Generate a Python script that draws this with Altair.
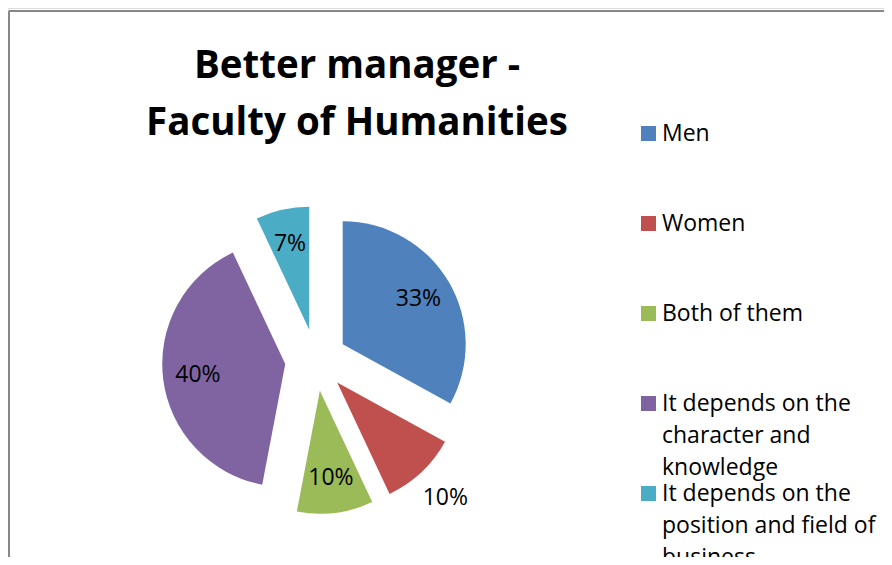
import altair as alt
import pandas as pd

categories = ["Men", "Women", "Both of them",
              "It depends on the character and knowledge",
              "It depends on the position and field of business"]
legend_labels = ["Men", "Women", "Both of them",
                 "It depends on the\ncharacter and\nknowledge",
                 "It depends on the\nposition and field of\nbusiness"]
values = [33, 10, 10, 40, 7]
colors = ["#4F81BD", "#C0504D", "#9BBB59", "#8064A2", "#4BACC6"]
title_text = "Better manager -\nFaculty of Humanities"

FONT = "Open Sans"
CX, CY, R, OFF = 308, 352, 123, 31

df = pd.DataFrame({
    "cat": categories,
    "legend": legend_labels,
    "value": values,
    "order": list(range(len(categories))),
})

base = (
    alt.Chart(df)
    .transform_window(cum="sum(value)", idx="row_number()",
                      sort=[alt.SortField("order")], frame=[None, 0])
    .transform_joinaggregate(total="sum(value)")
    .transform_calculate(
        a1="datum.cum / datum.total * 2 * PI",
        a0="(datum.cum - datum.value) / datum.total * 2 * PI",
    )
    .transform_calculate(mid="(datum.a0 + datum.a1) / 2")
    .transform_calculate(
        cx=f"{CX} + {OFF} * sin(datum.mid)",
        cy=f"{CY} - {OFF} * cos(datum.mid)",
        lr="datum.cat === 'Women' ? 158 : 88",
        lbl="datum.value + '%'",
        ly0="125.5 + 90 * (datum.idx - 1)",
        ty0="133 + 90 * (datum.idx - 1)",
    )
    .transform_calculate(
        lx="datum.cx + datum.lr * sin(datum.mid)",
        ly="datum.cy - datum.lr * cos(datum.mid)",
    )
)

color = alt.Color("cat:N", scale=alt.Scale(domain=categories, range=colors), legend=None)

arcs = base.mark_arc(outerRadius=R).encode(
    x=alt.X("cx:Q", scale=None, axis=None),
    y=alt.Y("cy:Q", scale=None, axis=None),
    theta=alt.Theta("a0:Q", scale=None, stack=None),
    theta2="a1:Q",
    color=color,
)

labels = base.mark_text(font=FONT, fontSize=23, color="black",
                        align="center", baseline="middle").encode(
    x=alt.X("lx:Q", scale=None, axis=None),
    y=alt.Y("ly:Q", scale=None, axis=None),
    text="lbl:N",
)

leg_sq = base.mark_square(size=225, opacity=1).encode(
    x=alt.value(640.5),
    y=alt.Y("ly0:Q", scale=None, axis=None),
    color=color,
)

leg_txt = base.mark_text(font=FONT, fontSize=23, color="black", align="left",
                         baseline="alphabetic", lineBreak="\n", lineHeight=32).encode(
    x=alt.value(654),
    y=alt.Y("ty0:Q", scale=None, axis=None),
    text="legend:N",
)

title = alt.Chart(pd.DataFrame({"t": [title_text]})).mark_text(
    font=FONT, fontSize=38.5, fontWeight="bold", color="black", align="center",
    baseline="alphabetic", lineBreak="\n", lineHeight=57,
).encode(x=alt.value(349), y=alt.value(70), text="t:N")

border_left = alt.Chart(pd.DataFrame({"a": [0]})).mark_rule(color="#888888", strokeWidth=2).encode(
    x=alt.value(1), y=alt.value(3), y2=alt.value(560))
border_top = alt.Chart(pd.DataFrame({"a": [0]})).mark_rule(color="#888888", strokeWidth=2).encode(
    x=alt.value(1), x2=alt.value(900), y=alt.value(3))

chart = (
    alt.layer(border_left, border_top, arcs, labels, leg_sq, leg_txt, title)
    .properties(width=876, height=549, autosize=alt.AutoSizeParams(type="none"), padding=0)
    .configure_view(strokeWidth=0)
    .configure(background="white")
)

chart.save("out.html", embed_options={"renderer": "svg", "actions": False})
